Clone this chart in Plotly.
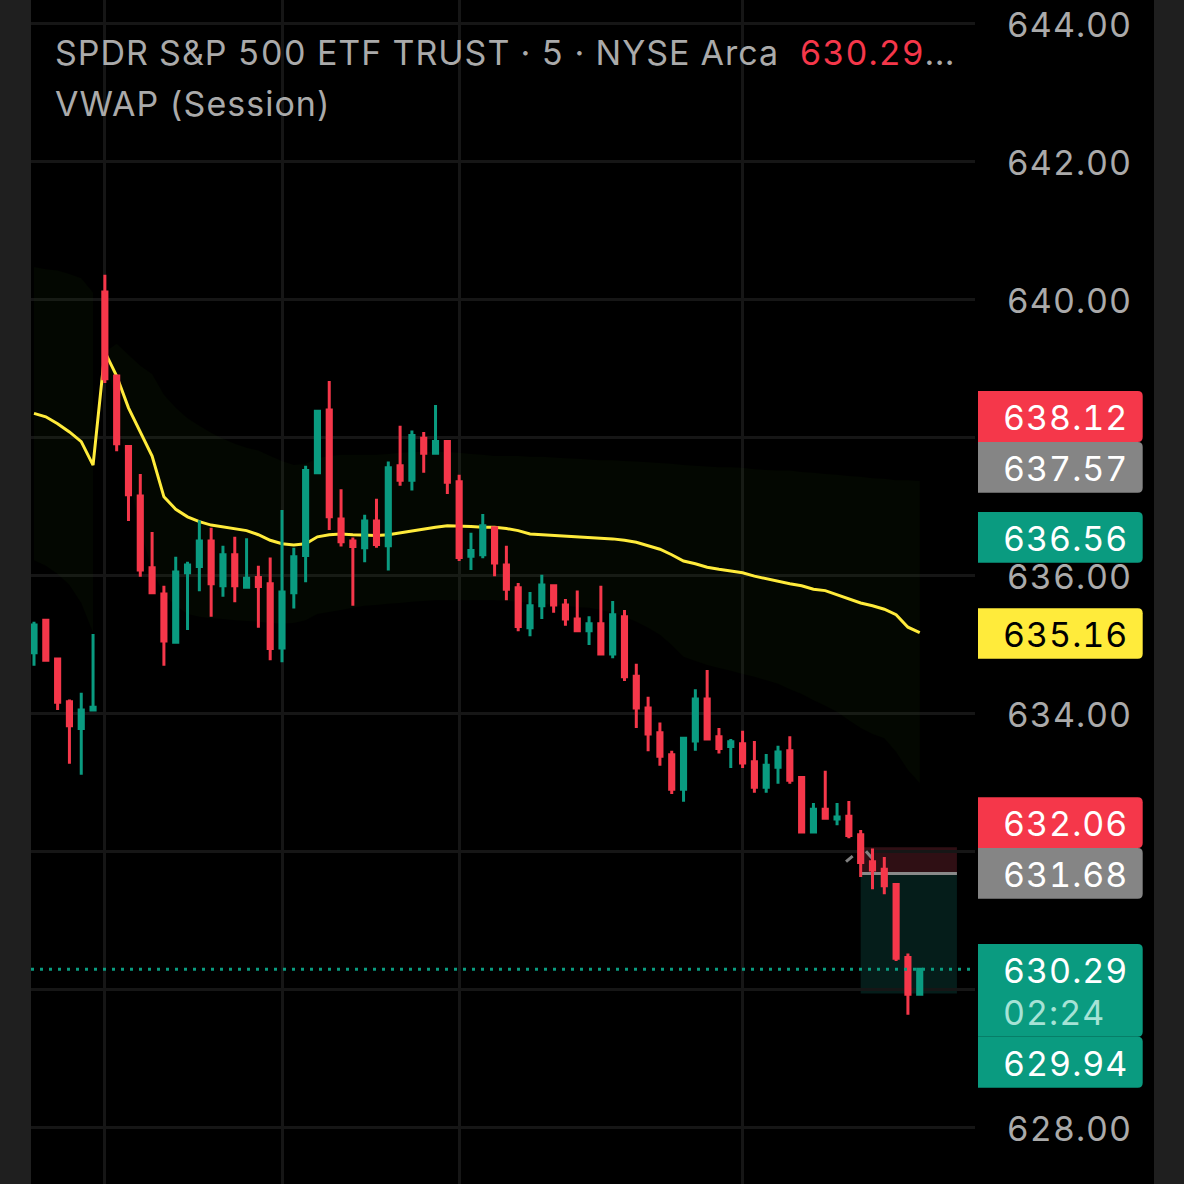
import plotly.graph_objects as go

W = H = 1184
UP = "#0a9b80"
DOWN = "#f5374a"

opens = [634.88,635.35,634.79,634.17,633.78,634.05,640.11,638.89,637.87,637.15,636.11,635.73,635.03,636.04,636.13,636.50,635.85,636.30,635.83,635.97,
         635.88,634.95,635.75,636.29,637.49,638.40,636.82,636.50,636.40,636.79,636.43,637.59,637.38,637.99,637.77,637.94,637.36,636.28,636.30,636.69,
         636.15,635.82,635.24,635.56,635.85,635.57,635.37,635.20,635.30,634.86,635.40,634.54,634.08,633.72,633.40,632.90,633.60,634.21,633.66,633.52,
         633.56,633.30,632.93,633.22,633.46,633.07,632.28,632.61,632.47,632.51,632.24,631.85,631.74,631.52,630.46,629.93]
highs = [635.33,635.35,634.80,634.20,634.30,635.15,640.36,638.91,637.88,637.47,636.63,635.85,636.27,636.20,636.80,636.69,636.43,636.56,636.54,636.14,
         636.26,636.95,636.40,637.59,638.39,638.82,637.25,636.55,636.88,637.11,637.65,638.17,638.10,638.08,638.47,637.94,637.46,636.62,636.89,636.71,
         636.43,635.89,635.76,636.01,635.85,635.66,635.78,635.41,635.85,635.63,635.50,634.72,634.24,633.87,633.46,633.65,634.35,634.63,633.79,633.63,
         633.75,633.60,633.41,633.53,633.67,633.07,632.70,633.17,632.70,632.73,632.31,632.04,631.92,631.53,630.52,630.31]
lows = [634.69,634.77,634.05,633.27,633.11,634.05,638.79,637.80,636.79,635.98,635.75,634.69,635.01,635.21,635.77,635.40,635.69,635.61,635.81,635.24,
        634.77,634.74,635.52,635.90,637.49,636.66,636.42,635.56,636.19,636.40,636.07,637.30,637.23,637.49,637.75,637.18,636.21,636.08,636.25,635.99,
        635.64,635.19,635.12,635.37,635.46,635.27,635.20,634.99,634.85,634.80,634.47,633.79,633.45,633.24,632.83,632.72,633.46,633.61,633.42,633.21,
        633.21,632.85,632.85,632.98,632.98,632.27,632.27,632.48,632.38,632.19,631.63,631.45,631.38,630.41,629.63,629.91]
closes = [635.28,634.77,634.16,633.82,634.05,634.09,638.85,637.91,637.17,636.08,635.75,635.05,636.05,636.15,636.50,635.88,636.30,635.85,635.96,635.84,
          634.94,635.76,636.27,637.52,638.38,636.85,636.49,636.42,636.79,636.45,637.56,637.38,638.03,637.77,637.94,637.35,636.26,636.36,636.72,636.18,
          635.80,635.26,635.56,635.86,635.57,635.37,635.20,635.30,634.86,635.43,634.53,634.08,633.70,633.38,632.90,633.64,634.21,633.63,633.49,633.59,
          633.28,632.93,633.25,633.44,633.03,632.28,632.61,632.48,632.50,632.23,631.84,631.73,631.50,630.45,629.93,630.29]
vwap = [638.35,638.30,638.20,638.08,637.94,637.60,639.24,638.89,638.43,638.07,637.73,637.14,636.96,636.85,636.78,636.73,636.70,636.67,636.65,636.59,
        636.51,636.46,636.44,636.46,636.56,636.59,636.60,636.59,636.58,636.58,636.59,636.62,636.65,636.68,636.70,636.72,636.72,636.71,636.70,636.70,
        636.68,636.65,636.60,636.59,636.58,636.57,636.57,636.56,636.54,636.53,636.51,636.48,636.43,636.38,636.30,636.21,636.17,636.12,636.09,636.07,
        636.04,635.99,635.95,635.91,635.88,635.85,635.80,635.78,635.72,635.67,635.60,635.56,635.51,635.43,635.25,635.17]
band_upper = [640.47,640.44,640.42,640.37,640.31,640.10,639.24,639.36,639.20,639.04,638.92,638.62,638.43,638.28,638.17,638.07,637.98,637.91,637.85,637.81,
              637.73,637.66,637.60,637.62,637.70,637.73,637.75,637.75,637.75,637.75,637.76,637.78,637.79,637.79,637.79,637.79,637.78,637.76,637.75,637.73,
              637.73,637.73,637.72,637.72,637.71,637.70,637.69,637.68,637.67,637.67,637.66,637.65,637.64,637.63,637.62,637.60,637.59,637.58,637.57,637.57,
              637.56,637.54,637.53,637.52,637.52,637.50,637.49,637.47,637.46,637.44,637.43,637.41,637.40,637.38,637.38,637.37]
band_lower = [636.22,636.14,636.02,635.86,635.60,635.17,639.24,638.40,637.46,636.66,636.08,635.72,635.56,635.44,635.40,635.38,635.37,635.35,635.34,635.33,
              635.31,635.30,635.31,635.35,635.44,635.47,635.50,635.53,635.56,635.57,635.59,635.60,635.62,635.63,635.64,635.64,635.64,635.64,635.64,635.64,
              635.63,635.62,635.60,635.59,635.57,635.56,635.54,635.53,635.50,635.46,635.40,635.33,635.24,635.14,634.99,634.82,634.76,634.70,634.66,634.62,
              634.57,634.53,634.48,634.43,634.35,634.28,634.19,634.11,634.02,633.90,633.79,633.70,633.64,633.44,633.18,632.99]
price_ticks = [628, 630, 632, 634, 636, 638, 640, 642, 644]
time_ticks = [6, 21, 36, 60]
last_price = 630.29
entry_price = 631.68
stop_price = 632.06
target_price = 629.94
pos_start, pos_end = 70, 78.15
mark_x = [68.76, 69.32, None, 70.45, 71.02]
mark_y = [631.85, 631.93, None, 632.00, 631.89]

# (label, colour, text colour, top px, bottom px, text centre px)
badges = [("638.12", DOWN, "#ffffff", 391, 442, 417),
          ("637.57", "#858585", "#ffffff", 442, 492.7, 468),
          ("636.56", UP, "#ffffff", 512, 562.7, 538),
          ("635.16", "#ffeb3b", "#000000", 608.3, 658.7, 634),
          ("632.06", DOWN, "#ffffff", 797.3, 848, 823),
          ("631.68", "#858585", "#ffffff", 848, 898.7, 874),
          ("630.29", UP, "#ffffff", 944, 1036.7, 970),
          ("629.94", UP, "#ffffff", 1036.7, 1087.7, 1063)]

px = lambda v: v / W
py = lambda v: 1 - v / H
idx = list(range(len(opens)))

fig = go.Figure()
BAND = "rgba(40,90,10,0.075)"
for a, b in ((0, 6), (6, len(idx))):
    fig.add_trace(go.Scatter(
        x=idx[a:b] + idx[a:b][::-1],
        y=band_upper[a:b] + band_lower[a:b][::-1],
        fill="toself", fillcolor=BAND, mode="none", hoverinfo="skip", showlegend=False, zorder=0))
fig.add_trace(go.Scatter(x=idx, y=vwap, mode="lines", line=dict(color="#ffeb3b", width=3),
                         hoverinfo="skip", showlegend=False, zorder=1))
fig.add_trace(go.Candlestick(
    x=idx, open=opens, high=highs, low=lows, close=closes, whiskerwidth=0,
    increasing=dict(line=dict(color=UP, width=3), fillcolor=UP),
    decreasing=dict(line=dict(color=DOWN, width=3), fillcolor=DOWN),
    showlegend=False, zorder=2))
fig.add_trace(go.Scatter(x=mark_x, y=mark_y, mode="lines", line=dict(color="#808080", width=3),
                         hoverinfo="skip", showlegend=False, zorder=1))

shapes = [
    dict(type="rect", xref="x", yref="y", x0=pos_start, x1=pos_end, y0=entry_price, y1=stop_price,
         fillcolor="#2f0f14", line_width=0, layer="below"),
    dict(type="rect", xref="x", yref="y", x0=pos_start, x1=pos_end, y0=target_price, y1=entry_price,
         fillcolor="#051d1a", line_width=0, layer="below"),
    dict(type="line", xref="x", yref="y", x0=pos_start, x1=pos_end, y0=entry_price, y1=entry_price,
         line=dict(color="#8a8a8a", width=3), layer="below"),
    dict(type="line", xref="paper", yref="y", x0=px(31), x1=px(975), y0=last_price, y1=last_price,
         line=dict(color=UP, width=3, dash="3px,6px"), layer="above"),
    dict(type="rect", xref="paper", yref="paper", x0=0, x1=px(31), y0=0, y1=1,
         fillcolor="#1f1f1f", line_width=0, layer="above"),
    dict(type="rect", xref="paper", yref="paper", x0=px(1154), x1=1, y0=0, y1=1,
         fillcolor="#1f1f1f", line_width=0, layer="above"),
]
annotations = []
FONT = "Inter"
L, R, r = 978, 1142.7, 5
for label, colour, tc, top, bot, cy in badges:
    path = (f"M {px(L)} {py(top)} L {px(R-r)} {py(top)} Q {px(R)} {py(top)} {px(R)} {py(top+r)} "
            f"L {px(R)} {py(bot-r)} Q {px(R)} {py(bot)} {px(R-r)} {py(bot)} L {px(L)} {py(bot)} Z")
    shapes.append(dict(type="path", xref="paper", yref="paper", path=path, fillcolor=colour,
                       line_width=0, layer="above"))
    annotations.append(dict(text=label, xref="paper", yref="paper", x=px(1000.5), y=py(cy), xanchor="left",
                            yanchor="middle", showarrow=False, font=dict(family=FONT, size=34, color=tc)))
annotations.append(dict(text="02:24", xref="paper", yref="paper", x=px(1000.5), y=py(1012), xanchor="left",
                        yanchor="middle", showarrow=False, font=dict(family=FONT, size=34, color="#a6e3d6")))
annotations.append(dict(
    text='SPDR S&amp;P 500 ETF TRUST · 5 · NYSE Arca  <span style="color:#f5374a">630.29</span>...',
    xref="paper", yref="paper", x=px(53), y=py(53), xanchor="left", yanchor="middle", showarrow=False,
    font=dict(family=FONT, size=34, color="#aaaaaa")))
annotations.append(dict(
    text="VWAP (Session)", xref="paper", yref="paper", x=px(53), y=py(104), xanchor="left", yanchor="middle",
    showarrow=False, font=dict(family=FONT, size=34, color="#aaaaaa")))

fig.update_layout(
    width=W, height=H, margin=dict(l=0, r=0, t=0, b=0, pad=0),
    paper_bgcolor="#000000", plot_bgcolor="#000000", boxgap=0.5, showlegend=False,
    hovermode=False, shapes=shapes, annotations=annotations,
    xaxis=dict(domain=[px(31), px(975)], range=[-0.254, 79.68], tickvals=time_ticks, showticklabels=False,
               ticks="", showgrid=True, gridcolor="#161616", gridwidth=3, zeroline=False,
               rangeslider=dict(visible=False)),
    yaxis=dict(domain=[0, 1], range=[627.178, 644.342], side="right", tickvals=price_ticks, tickformat=".2f",
               showgrid=True, gridcolor="#161616", gridwidth=3, zeroline=False, ticks="outside", ticklen=24,
               tickcolor="#000000", tickfont=dict(family=FONT, size=34, color="#aaaaaa")),
)
post = """
document.body.style.margin='0';document.body.style.background='#000';
document.querySelectorAll('.annotation-text').forEach(function(t){
  var before=t.getBoundingClientRect().left;
  t.style.letterSpacing='1px';t.style.fontFeatureSettings='"tnum"';
  var after=t.getBoundingClientRect().left;
  t.setAttribute('x',parseFloat(t.getAttribute('x')||0)+before-after);
});
document.querySelectorAll('.ytick text').forEach(function(t){
  t.style.letterSpacing='1px';t.style.fontFeatureSettings='"tnum"';t.setAttribute('dy','1.5');
});
"""
fig.write_html("out.html", config=dict(displayModeBar=False), post_script=post)
